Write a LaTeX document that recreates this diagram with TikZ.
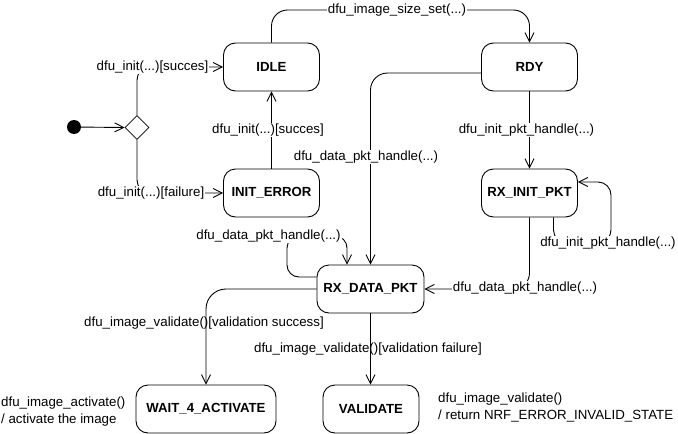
\documentclass[tikz,border=0pt]{standalone}
\usepackage{fontspec}
\setmainfont{Liberation Sans}
\usetikzlibrary{arrows.meta,shapes.geometric}
\begin{document}
\begin{tikzpicture}[x=1pt,y=-1pt,
  every node/.style={font=\fontsize{13.3}{17}\selectfont},
  state/.style={draw, line width=0.9pt, rounded corners=12pt, minimum width=96pt, minimum height=48pt, inner sep=0pt, font=\fontsize{13.2}{17}\selectfont\bfseries},
  lbl/.style={fill=white, inner sep=1pt},
  nlbl/.style={inner sep=1pt},
  conn/.style={line width=0.9pt, -{Straight Barb[length=9pt,width=9pt]}},
]
\useasboundingbox (0,0) rectangle (678,434);

% states
\node[state] (idle) at (271.5,67) {IDLE};
\node[state] (rdy) at (529.5,67) {RDY};
\node[state] (initerr) at (271.5,193) {INIT\_ERROR};
\node[state] (rxinit) at (529.5,193) {RX\_INIT\_PKT};
\node[state, minimum width=107pt] (rxdata) at (370.5,289) {RX\_DATA\_PKT};
\node[state, minimum width=140pt] (wait) at (206,409) {WAIT\_4\_ACTIVATE};
\node[state] (validate) at (371,409) {VALIDATE};

% pseudo states
\node[circle, fill=black, minimum size=14pt, inner sep=0pt] (init) at (74,127) {};
\node[draw, diamond, aspect=1, minimum size=24pt, inner sep=0pt, line width=0.7pt] (dia) at (137,127.5) {};

% helper coordinates
\coordinate (top) at (400,10);
\coordinate (lp1) at (611,243);
\coordinate (lp2) at (287,236);

% connectors
\draw[conn] (init) -- (dia.west);
\draw[conn, rounded corners=13pt] (dia.north) |- (idle.west);
\draw[conn, rounded corners=13pt] (dia.south) |- (initerr.west);
\draw[conn] (initerr) -- (idle);
\draw[conn, rounded corners=16pt] (idle.north) |- (top) -| (rdy.north);
\draw[conn, rounded corners=17pt] ([yshift=-6pt]rdy.west) -| (rxdata.north);
\draw[conn] (rdy) -- (rxinit);
\draw[conn, rounded corners=13pt] ([xshift=24pt]rxinit.south) |- (lp1) |- ([yshift=11pt]rxinit.east);
\draw[conn, rounded corners=16pt] (rxinit.south) |- (rxdata.east);
\draw[conn, rounded corners=12pt] ([yshift=12pt]rxdata.west) -| (lp2) -| ([xshift=-23.5pt]rxdata.north);
\draw[conn, rounded corners=20pt] (rxdata.west) -| (wait.north);
\draw[conn] (rxdata.south) -- (rxdata.south |- validate.north);

% labels
\node[lbl] (l1) at (152.5,67) {dfu\_init(...)[succes]};
\node[lbl] (l2) at (151,193) {dfu\_init(...)[failure]};
\node[lbl] (l3) at (268,130) {dfu\_init(...)[succes]};
\node[lbl] (l4) at (397,10) {dfu\_image\_size\_set(...)};
\node[lbl] (l5) at (366,157) {dfu\_data\_pkt\_handle(...)};
\node[lbl] (l6) at (526.5,130) {dfu\_init\_pkt\_handle(...)};
\node[lbl] (l7) at (608,243) {dfu\_init\_pkt\_handle(...)};
\node[lbl] (l8) at (525,288) {dfu\_data\_pkt\_handle(...)};
\node[lbl] (l9) at (268.5,236) {dfu\_data\_pkt\_handle(...)};
\node[nlbl] (l10) at (204,323) {dfu\_image\_validate()[validation success]};
\node[nlbl] (l11) at (368,349) {dfu\_image\_validate()[validation failure]};

% notes
\node[nlbl, anchor=west, align=left] (n1) at (0,411.5) {dfu\_image\_activate()\\/ activate the image};
\node[nlbl, anchor=west, align=left] (n2) at (437,407.5) {dfu\_image\_validate()\\/ return NRF\_ERROR\_INVALID\_STATE};
\end{tikzpicture}
\end{document}
